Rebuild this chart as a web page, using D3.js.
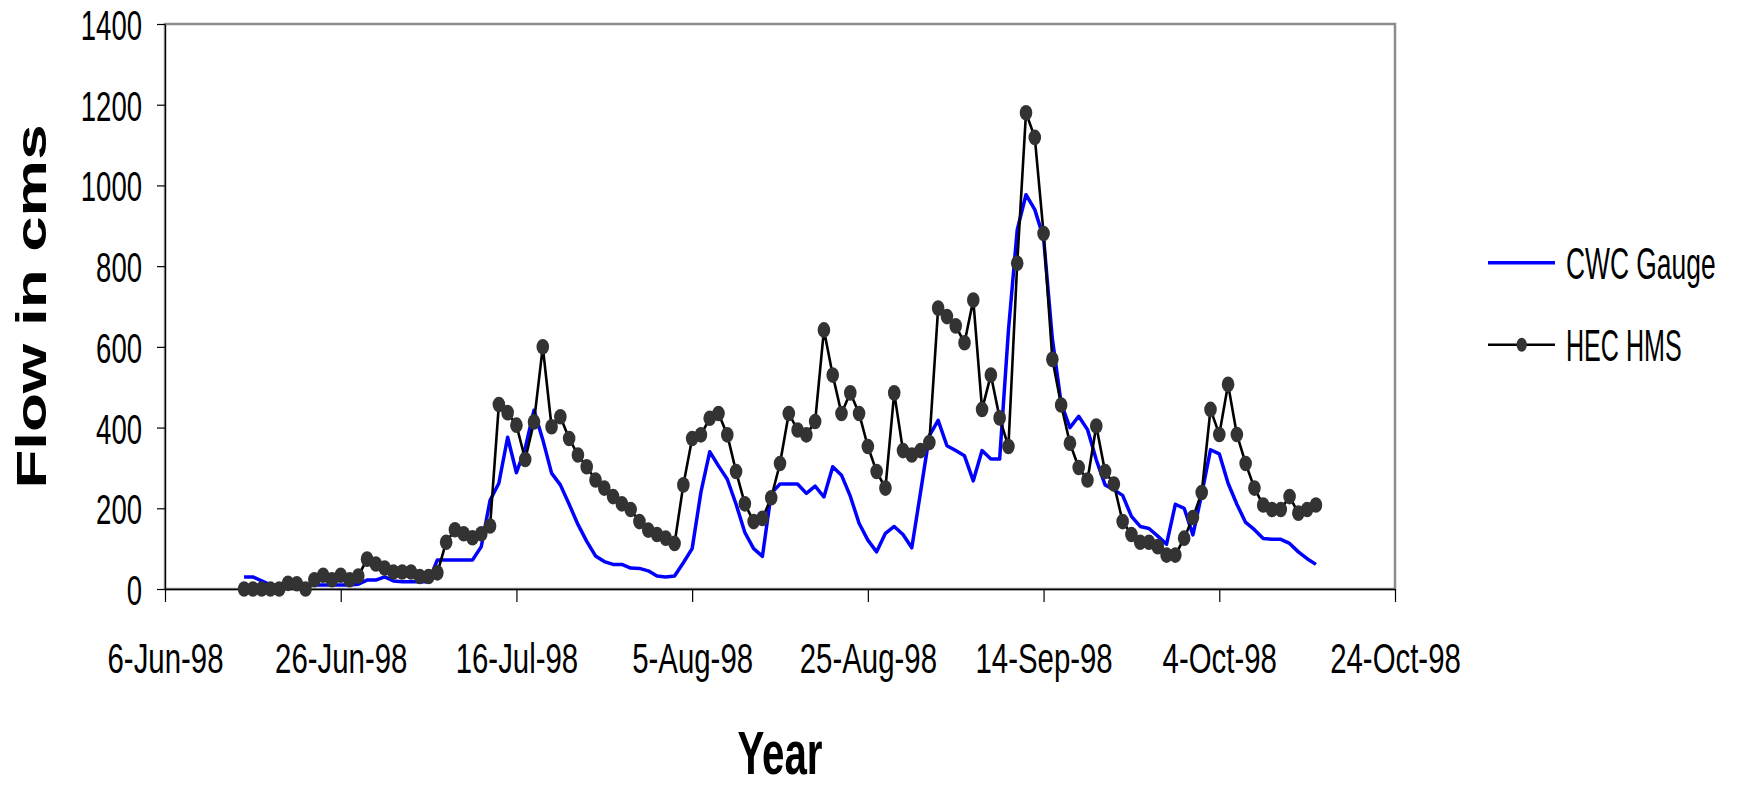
<!DOCTYPE html>
<html>
<head>
<meta charset="utf-8">
<script src="https://cdn.jsdelivr.net/npm/d3@7"></script>
<style>
  html, body { margin: 0; padding: 0; background: #ffffff; }
  svg { display: block; }
  text { font-family: "Liberation Sans", Arial, sans-serif; fill: #000; }
</style>
</head>
<body>
<svg id="chart" width="1738" height="787"></svg>
<script>
// ---------------- DATA ----------------
const firstDate = "1998-06-15";          // daily series start
const xDomain = ["1998-06-06", "1998-10-24"];
const xTickDates = ["1998-06-06", "1998-06-26", "1998-07-16", "1998-08-05",
                    "1998-08-25", "1998-09-14", "1998-10-04", "1998-10-24"];
const xTickLabels = ["6-Jun-98", "26-Jun-98", "16-Jul-98", "5-Aug-98",
                     "25-Aug-98", "14-Sep-98", "4-Oct-98", "24-Oct-98"];
const yTicks = [0, 200, 400, 600, 800, 1000, 1200, 1400];

const cwcGauge = [
  30, 30, 20, 10, 8, 8, 8, 8, 10, 10,
  10, 10, 10, 12, 22, 22, 30, 20, 18, 18,
  18, 18, 72, 72, 72, 72, 72, 105, 220, 262,
  376, 288, 349, 443, 370, 287, 258, 210, 160, 118,
  82, 68, 61, 61, 52, 51, 45, 32, 30, 32,
  65, 100, 240, 340, 305, 272, 210, 140, 100, 81,
  237, 260, 260, 260, 237, 255, 228, 303, 282, 230,
  163, 121, 92, 138, 155, 135, 102, 240, 380, 418,
  355, 343, 330, 268, 343, 322, 322, 640, 890, 977,
  940, 870, 620, 460, 400, 428, 395, 320, 258, 246,
  232, 180, 155, 150, 131, 111, 210, 200, 134, 235,
  345, 335, 262, 210, 165, 147, 125, 123, 123, 113,
  92, 75, 61
];

const hecHms = [
  0, 0, 0, 0, 0, 14, 13, 0, 23, 34,
  23, 34, 23, 32, 74, 62, 52, 42, 42, 42,
  31, 31, 40, 116, 147, 137, 127, 137, 156, 457,
  437, 406, 321, 414, 600, 402, 427, 373, 332, 303,
  270, 250, 229, 211, 197, 167, 146, 135, 126, 113,
  258, 373, 382, 423, 435, 382, 291, 211, 167, 175,
  226, 311, 435, 394, 382, 415, 642, 530, 435, 486,
  435, 353, 291, 250, 486, 343, 332, 343, 363, 696,
  675, 652, 610, 716, 445, 530, 424, 353, 807, 1180,
  1119, 881, 569, 456, 361, 301, 270, 404, 291, 260,
  167, 135, 116, 116, 105, 84, 84, 126, 177, 239,
  445, 383, 507, 383, 311, 250, 208, 197, 197, 229,
  188, 197, 208
];

const seriesNames = ["CWC Gauge", "HEC HMS"];
const yTitle = "Flow in cms";
const xTitle = "Year";

// ---------------- CHART ----------------
const parse = d3.utcParse("%Y-%m-%d");
const start = parse(firstDate);
const toPoints = arr => arr.map((v, i) => ({ date: d3.utcDay.offset(start, i), value: v }));
const cwcPts = toPoints(cwcGauge);
const hecPts = toPoints(hecHms);

const plot = { left: 165, right: 1395, top: 24, bottom: 589 };

const x = d3.scaleUtc()
  .domain(xDomain.map(parse))
  .range([plot.left, plot.right]);
const y = d3.scaleLinear()
  .domain([0, 1400])
  .range([plot.bottom, plot.top]);

const svg = d3.select("#chart");

// plot frame
svg.append("rect")
  .attr("x", plot.left).attr("y", plot.top)
  .attr("width", plot.right - plot.left).attr("height", plot.bottom - plot.top)
  .attr("fill", "none").attr("stroke", "#8c8c8c").attr("stroke-width", 2.5);

// y axis
const gy = svg.append("g")
  .attr("transform", `translate(${plot.left},0)`)
  .call(d3.axisLeft(y).tickValues(yTicks).tickSize(8).tickSizeOuter(0).tickFormat(d3.format("d")));
gy.select(".domain").attr("stroke", "#000").attr("stroke-width", 1.2);
gy.selectAll(".tick line").attr("stroke", "#000").attr("stroke-width", 1.2);
gy.selectAll(".tick text")
  .attr("x", null).attr("dy", "0.36em")
  .attr("transform", "translate(-23,0) scale(0.64,1)")
  .attr("text-anchor", "end")
  .style("font-size", "43px")
  .style("font-family", '"Liberation Sans", Arial, sans-serif')
  .attr("fill", "#000");

// x axis
const gx = svg.append("g")
  .attr("transform", `translate(0,${plot.bottom})`)
  .call(d3.axisBottom(x).tickValues(xTickDates.map(parse)).tickSize(13).tickSizeOuter(0)
    .tickFormat((d, i) => xTickLabels[i]));
gx.select(".domain").attr("stroke", "#000").attr("stroke-width", 1.5);
gx.selectAll(".tick line").attr("stroke", "#000").attr("stroke-width", 1.2);
gx.selectAll(".tick text")
  .attr("y", null).attr("dy", null)
  .attr("transform", "translate(0,83.5) scale(0.7,1)")
  .attr("text-anchor", "middle")
  .style("font-size", "42px")
  .style("font-family", '"Liberation Sans", Arial, sans-serif')
  .attr("fill", "#000");

// series
const line = d3.line().x(d => x(d.date)).y(d => y(d.value));

svg.append("path").datum(cwcPts)
  .attr("d", line).attr("fill", "none")
  .attr("stroke", "#0000ff").attr("stroke-width", 3.5)
  .attr("stroke-linejoin", "round");

svg.append("path").datum(hecPts)
  .attr("d", line).attr("fill", "none")
  .attr("stroke", "#000000").attr("stroke-width", 2.6)
  .attr("stroke-linejoin", "round");

svg.append("g").selectAll("ellipse").data(hecPts).join("ellipse")
  .attr("cx", d => x(d.date)).attr("cy", d => y(d.value))
  .attr("rx", 6.3).attr("ry", 7.8)
  .attr("fill", "#333333");

// legend
const leg = svg.append("g");
const legRows = [
  { name: seriesNames[0], y: 262.7, color: "#0000ff", width: 3.5, marker: false, sx: 0.6 },
  { name: seriesNames[1], y: 344.7, color: "#000000", width: 2.6, marker: true, sx: 0.57 }
];
legRows.forEach(r => {
  leg.append("line").attr("x1", 1488).attr("x2", 1555).attr("y1", r.y).attr("y2", r.y)
    .attr("stroke", r.color).attr("stroke-width", r.width);
  if (r.marker) {
    leg.append("ellipse").attr("cx", 1521.7).attr("cy", r.y).attr("rx", 5.2).attr("ry", 7)
      .attr("fill", "#333333");
  }
  leg.append("text").text(r.name)
    .attr("transform", `translate(1566,${r.y}) scale(${r.sx},1)`)
    .attr("dy", "0.36em")
    .style("font-size", "44px");
});

// axis titles
svg.append("text").text(xTitle)
  .attr("transform", `translate(${(plot.left + plot.right) / 2},773.5) scale(0.66,1)`)
  .attr("text-anchor", "middle")
  .style("font-size", "61px").style("font-weight", "bold");

svg.append("text").text(yTitle)
  .attr("transform", `translate(46,${(plot.top + plot.bottom) / 2}) rotate(-90) scale(1.48,1)`)
  .attr("text-anchor", "middle")
  .style("font-size", "43px").style("font-weight", "bold");
</script>
</body>
</html>
